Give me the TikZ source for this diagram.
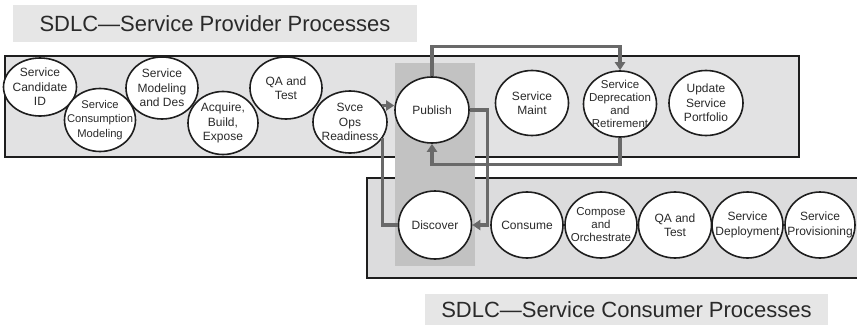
\documentclass[tikz,border=0pt]{standalone}
\usepackage{fontspec}
\setmainfont{Liberation Sans}
\usetikzlibrary{shapes.geometric,arrows.meta,calc}
\definecolor{boxfill}{HTML}{E2E2E3}
\definecolor{boxfillb}{HTML}{DCDCDD}
\definecolor{titlefill}{HTML}{E6E6E6}
\definecolor{colfill}{HTML}{C2C2C2}
\definecolor{conn}{HTML}{696969}
\definecolor{edge}{HTML}{1E1E1E}
\definecolor{ink}{HTML}{2A2A2A}
\tikzset{
  proc/.style={ellipse, draw=edge, line width=1.6pt, fill=white,
    inner xsep=-14pt, inner ysep=-8pt,
    align=center, font=\fontsize{12}{14.5}\selectfont, text=ink},
  lane/.style={draw=edge, line width=2pt},
  titlebox/.style={fill=titlefill, inner sep=0pt, font=\fontsize{22}{24}\selectfont, text=ink},
  connline/.style={draw=conn, line width=3.3pt},
  connarr/.style={connline, -{Triangle[length=8pt,width=10pt]}},
}
\begin{document}
\begin{tikzpicture}[x=1pt,y=-1pt]
\useasboundingbox (0,0) rectangle (857,327);
\clip (0,0) rectangle (857,327);
\fill[white] (0,0) rectangle (857,327);
% titles
\node[titlebox, minimum width=404pt, minimum height=37pt] (ttop) at (215,23.5) {SDLC—Service Provider Processes};
\node[titlebox, minimum width=403pt, minimum height=31pt] (tbot) at (626.5,309.5) {SDLC—Service Consumer Processes};
% lanes
\path[lane, fill=boxfill] (5,56) rectangle (799,157);
\path[lane, fill=boxfillb] (367,178) rectangle (870,278);
% shared column
\fill[colfill] (395,63) rectangle (475,266);
% provider processes
\node[proc, minimum width=73pt, minimum height=58pt] (cand) at (40,87) {Service\\Candidate\\ID};
\node[proc, minimum width=71pt, minimum height=63pt, font=\fontsize{11.2}{14.5}\selectfont] (cons) at (100,120) {Service\\Consumption\\Modeling};
\node[proc, minimum width=72pt, minimum height=62pt] (model) at (162,88) {Service\\Modeling\\and Des};
\node[proc, minimum width=70pt, minimum height=63pt] (acq) at (223,123) {Acquire,\\Build,\\Expose};
\node[proc, minimum width=72pt, minimum height=62pt] (qa) at (286,88) {QA and\\Test};
\node[proc, minimum width=74pt, minimum height=62pt] (svce) at (350,122) {Svce\\Ops\\Readiness};
\node[proc, minimum width=74pt, minimum height=66pt] (publish) at (432,110) {Publish};
\node[proc, minimum width=73pt, minimum height=65pt] (maint) at (532,103) {Service\\Maint};
\node[proc, minimum width=73pt, minimum height=66pt, font=\fontsize{11.5}{13}\selectfont] (deprec) at (620,104) {Service\\Deprecation\\and\\Retirement};
\node[proc, minimum width=74pt, minimum height=65pt] (update) at (706,103) {Update\\Service\\Portfolio};
% consumer processes
\node[proc, minimum width=73pt, minimum height=68pt] (discover) at (435,225) {Discover};
\node[proc, minimum width=72pt, minimum height=66pt] (consume) at (527,225) {Consume};
\node[proc, minimum width=72pt, minimum height=66pt, font=\fontsize{11.5}{13}\selectfont] (compose) at (601,225) {Compose\\and\\Orchestrate};
\node[proc, minimum width=73pt, minimum height=66pt] (qab) at (675,225) {QA and\\Test};
\node[proc, minimum width=71pt, minimum height=66pt] (deploy) at (747.5,225) {Service\\Deployment};
\node[proc, minimum width=70pt, minimum height=66pt] (prov) at (820,225) {Service\\Provisioning};
% connectors
\draw[connarr] (svce.27) -- (svce.27 -| publish.west);
\draw[connarr] (publish.north) -- ++(0,-30) -| (deprec.north);
\draw[connarr] (deprec.south) -- ++(0,27) -| (publish.south);
\draw[connarr] (publish.east) -- ++(18,0) |- (discover.east);
\draw[connline] (discover.west) -| (svce.-26);
\end{tikzpicture}
\end{document}
